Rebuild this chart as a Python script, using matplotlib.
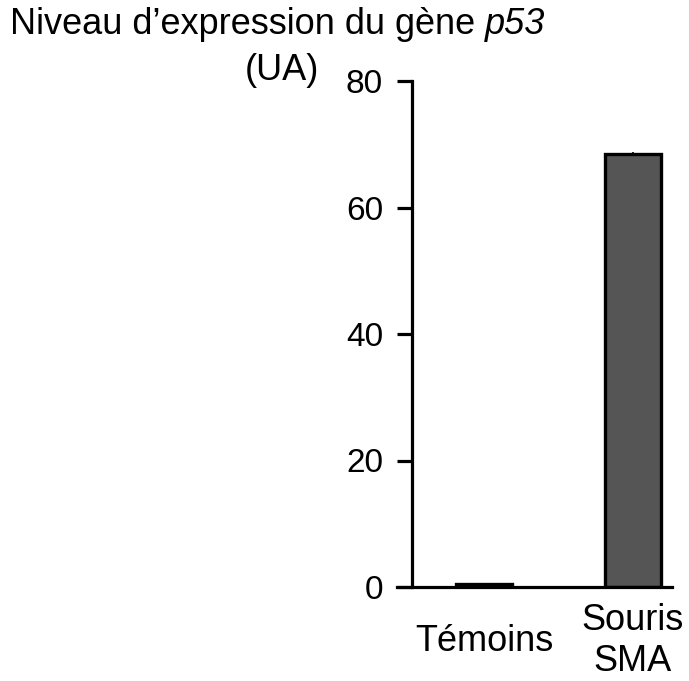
import matplotlib

matplotlib.use("Agg")

import matplotlib.pyplot as plt

plt.rcParams["font.family"] = ["Liberation Sans", "DejaVu Sans"]

groups = ["Témoins", "Souris\nSMA"]
values = [0.5, 68.5]
errors = [0.1, 0.3]
y_ticks = [0, 20, 40, 60, 80]

fig = plt.figure(figsize=(6.89, 6.81), dpi=100)
ax = fig.add_axes([397 / 689, 94 / 681, 275 / 689, 506 / 681])

x = list(range(len(groups)))
ax.bar(x, values, width=0.37, color="#555555", edgecolor="black", linewidth=2.4, zorder=2)
ax.errorbar(x, values, yerr=errors, fmt="none", ecolor="black", elinewidth=1.2, capsize=0, zorder=3)

ax.set_xlim(-0.584, 1.262)
ax.set_ylim(0, 80)

for side in ["top", "right"]:
    ax.spines[side].set_visible(False)
ax.spines["left"].set_position(("axes", 15 / 275))
ax.spines["left"].set_linewidth(2.3)
ax.spines["bottom"].set_linewidth(2.3)

ax.set_yticks(y_ticks)
ax.set_yticklabels([str(v) for v in y_ticks], fontsize=24)
ax.tick_params(axis="y", length=10.8, width=2.3, pad=10)

ax.set_xticks(x)
ax.set_xticklabels(groups, fontsize=26, linespacing=1.2)
for lbl in ax.get_xticklabels():
    lbl.set_va("center")
ax.tick_params(axis="x", length=0, pad=39)

# title line 1: normal text followed by italic gene name, centred as a whole
renderer = fig.canvas.get_renderer()
t1 = fig.text(0, 1 - 25 / 681, "Niveau d\u2019expression du gène ", fontsize=26, va="center")
t2 = fig.text(0, 1 - 25 / 681, "p53", fontsize=26, va="center", style="italic")
w1 = t1.get_window_extent(renderer).width
w2 = t2.get_window_extent(renderer).width
start = 278 - (w1 + w2) / 2
t1.set_x(start / 689)
t2.set_x((start + w1) / 689)

fig.text(282 / 689, 1 - 70 / 681, "(UA)", fontsize=26, ha="center", va="center")

fig.savefig("out.png", dpi=100)
